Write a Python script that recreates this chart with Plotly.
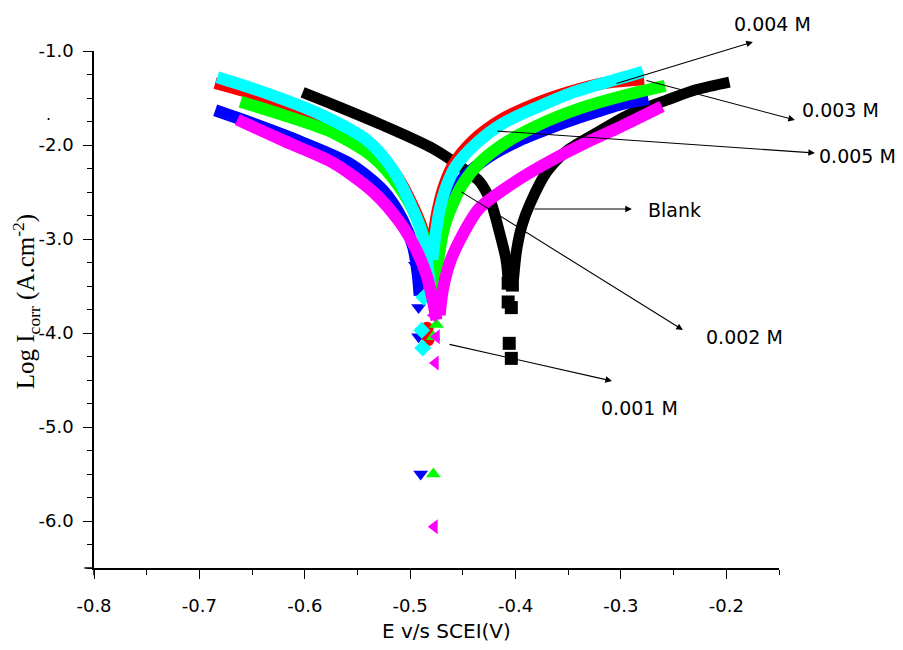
import plotly.graph_objects as go

# ---------------- data ----------------
# Blank (black squares)
blank_cat_E = [-0.602, -0.573, -0.526, -0.478, -0.446, -0.434, -0.424, -0.415, -0.409, -0.407]
blank_cat_L = [-1.44, -1.57, -1.79, -2.04, -2.28, -2.39, -2.59, -2.94, -3.22, -3.44]
blank_an_E = [-0.402, -0.399, -0.394, -0.386, -0.370, -0.351, -0.323, -0.291, -0.256, -0.228, -0.197]
blank_an_L = [-3.44, -3.12, -2.86, -2.62, -2.28, -2.06, -1.87, -1.67, -1.52, -1.41, -1.33]
blank_tail_E = [-0.407, -0.403, -0.407, -0.404, -0.406, -0.404]
blank_tail_L = [-3.47, -3.49, -3.67, -3.73, -4.11, -4.27]

# 0.001 M (magenta left triangles)
m001_cat_E = [-0.664, -0.621, -0.573, -0.535, -0.510, -0.494, -0.484, -0.478, -0.475]
m001_cat_L = [-1.73, -1.95, -2.19, -2.50, -2.82, -3.12, -3.40, -3.68, -3.86]
m001_an_E = [-0.472, -0.469, -0.462, -0.450, -0.434, -0.396, -0.367, -0.334, -0.301, -0.261]
m001_an_L = [-3.81, -3.54, -3.24, -2.95, -2.67, -2.36, -2.17, -1.98, -1.81, -1.59]
m001_tail_E = [-0.478, -0.475, -0.476, -0.477]
m001_tail_L = [-3.81, -4.04, -4.32, -6.06]

# 0.002 M (green up triangles)
m002_cat_E = [-0.661, -0.621, -0.573, -0.535, -0.510, -0.494, -0.484, -0.478, -0.476]
m002_cat_L = [-1.54, -1.68, -1.87, -2.13, -2.45, -2.77, -3.09, -3.40, -3.65]
m002_an_E = [-0.475, -0.472, -0.467, -0.460, -0.451, -0.434, -0.410, -0.377, -0.339, -0.296, -0.258]
m002_an_L = [-3.44, -3.12, -2.85, -2.64, -2.43, -2.19, -1.98, -1.78, -1.61, -1.47, -1.37]
m002_tail_E = [-0.475, -0.478, -0.478]
m002_tail_L = [-3.91, -4.04, -5.50]

# 0.003 M (red circles)
m003_cat_E = [-0.685, -0.636, -0.588, -0.541, -0.514, -0.497, -0.486, -0.482, -0.480]
m003_cat_L = [-1.34, -1.50, -1.71, -2.00, -2.31, -2.66, -2.98, -3.25, -3.55]
m003_an_E = [-0.481, -0.478, -0.474, -0.468, -0.459, -0.440, -0.415, -0.383, -0.350, -0.315, -0.278]
m003_an_L = [-3.25, -2.98, -2.70, -2.44, -2.21, -1.95, -1.74, -1.57, -1.44, -1.34, -1.30]
m003_tail_E = [-0.484, -0.483]
m003_tail_L = [-3.95, -4.07]

# 0.004 M (cyan diamonds)
m004_cat_E = [-0.683, -0.636, -0.588, -0.541, -0.516, -0.500, -0.489, -0.484, -0.481]
m004_cat_L = [-1.28, -1.45, -1.66, -1.95, -2.27, -2.62, -2.94, -3.22, -3.57]
m004_an_E = [-0.479, -0.476, -0.472, -0.466, -0.457, -0.437, -0.412, -0.380, -0.348, -0.313, -0.279]
m004_an_L = [-3.22, -2.96, -2.69, -2.45, -2.23, -1.98, -1.77, -1.60, -1.45, -1.33, -1.22]
m004_tail_E = [-0.487, -0.489, -0.488]
m004_tail_L = [-3.62, -3.97, -4.16]

# 0.005 M (blue down triangles)
m005_cat_E = [-0.685, -0.652, -0.605, -0.557, -0.526, -0.507, -0.497, -0.493, -0.491]
m005_cat_L = [-1.63, -1.76, -1.96, -2.20, -2.48, -2.80, -3.09, -3.36, -3.60]
m005_an_E = [-0.481, -0.478, -0.474, -0.465, -0.451, -0.427, -0.396, -0.365, -0.332, -0.301, -0.274]
m005_an_L = [-3.54, -3.24, -2.96, -2.64, -2.37, -2.14, -1.95, -1.81, -1.68, -1.57, -1.51]
m005_tail_E = [-0.495, -0.492, -0.492, -0.490]
m005_tail_L = [-3.28, -3.73, -4.04, -5.50]

x_tickvals = [-0.8, -0.7, -0.6, -0.5, -0.4, -0.3, -0.2]
x_ticktext = ["-0.8", "-0.7", "-0.6", "-0.5", "-0.4", "-0.3", "-0.2"]
y_tickvals = [-1.0, -2.0, -3.0, -4.0, -5.0, -6.0]
y_ticktext = ["-1.0", "-2.0", "-3.0", "-4.0", "-5.0", "-6.0"]

series = [
    ("Blank", "#000000", "square", 11, blank_cat_E, blank_cat_L, blank_an_E, blank_an_L, blank_tail_E, blank_tail_L),
    ("0.003 M", "#ff0000", "circle", 12, m003_cat_E, m003_cat_L, m003_an_E, m003_an_L, m003_tail_E, m003_tail_L),
    ("0.005 M", "#0000ff", "triangle-down", 12, m005_cat_E, m005_cat_L, m005_an_E, m005_an_L, m005_tail_E, m005_tail_L),
    ("0.002 M", "#00ff00", "triangle-up", 12, m002_cat_E, m002_cat_L, m002_an_E, m002_an_L, m002_tail_E, m002_tail_L),
    ("0.004 M", "#00ffff", "diamond", 12, m004_cat_E, m004_cat_L, m004_an_E, m004_an_L, m004_tail_E, m004_tail_L),
    ("0.001 M", "#ff00ff", "triangle-left", 12, m001_cat_E, m001_cat_L, m001_an_E, m001_an_L, m001_tail_E, m001_tail_L),
]

fig = go.Figure()
for name, col, sym, lw, cE, cL, aE, aL, tE, tL in series:
    fig.add_trace(go.Scatter(x=cE + [None] + aE, y=cL + [None] + aL, mode="lines",
                             line=dict(color=col, width=lw, shape="spline", smoothing=0.8),
                             name=name, showlegend=False, hoverinfo="skip"))
    fig.add_trace(go.Scatter(x=tE, y=tL, mode="markers",
                             marker=dict(color=col, symbol=sym, size=13, line=dict(width=0)),
                             name=name, showlegend=False))

FONT = "DejaVu Sans"
# the page body has an 8 px margin: figure is 887x634 so it fills the 903x650 window
fig.update_layout(
    width=887, height=634,
    margin=dict(l=86, r=116, t=43, b=74),
    paper_bgcolor="white", plot_bgcolor="white",
    showlegend=False,
    font=dict(family=FONT, color="black", size=15),
)
fig.update_xaxes(range=[-0.8, -0.15], showgrid=False, zeroline=False,
                 showline=True, linecolor="black", linewidth=1.5,
                 ticks="outside", ticklen=9, tickwidth=1.2, tickcolor="black",
                 tickvals=x_tickvals, ticktext=x_ticktext, ticklabelstandoff=12,
                 tickfont=dict(family=FONT, size=18),
                 minor=dict(dtick=0.05, tick0=-0.8, ticks="outside", ticklen=5, tickwidth=1.2, tickcolor="black"))
fig.update_yaxes(range=[-6.5, -1.0], showgrid=False, zeroline=False,
                 showline=True, linecolor="black", linewidth=1.5,
                 ticks="outside", ticklen=9, tickwidth=1.2, tickcolor="black",
                 tickvals=y_tickvals, ticktext=y_ticktext, ticklabelstandoff=6,
                 tickfont=dict(family=FONT, size=18),
                 minor=dict(dtick=0.25, tick0=-1.0, ticks="outside", ticklen=5, tickwidth=1.2, tickcolor="black"))

# axis-line overhang at the origin (Origin-style cross)
fig.add_shape(type="line", xref="paper", yref="paper", x0=-0.014, x1=0, y0=0, y1=0,
              line=dict(color="black", width=1.5))
fig.add_shape(type="line", xref="paper", yref="paper", x0=0, x1=0, y0=0, y1=-0.014,
              line=dict(color="black", width=1.5))

# axis titles
fig.add_annotation(xref="paper", yref="paper", x=-0.1, y=0.515, textangle=-90,
                   text="Log I<sub>corr</sub> (A.cm<sup>-2</sup>)", showarrow=False,
                   font=dict(family="Liberation Serif", size=25, color="black"),
                   xanchor="center", yanchor="middle")
fig.add_annotation(xref="paper", yref="paper", x=0.515, y=-0.121, text="E v/s SCEI(V)",
                   showarrow=False, font=dict(family=FONT, size=20, color="black"),
                   xanchor="center", yanchor="middle")
fig.add_annotation(xref="paper", yref="paper", x=-0.073, y=0.899, text=".", showarrow=False,
                   font=dict(family=FONT, size=16, color="black"))

# arrows (tail on the curve, head near the label)
arrows = [
    (-0.3057, -1.351, -0.1748, -0.904),
    (-0.2772, -1.309, -0.1349, -1.734),
    (-0.4186, -1.851, -0.1159, -2.085),
    (-0.3835, -2.681, -0.2896, -2.681),
    (-0.4528, -2.489, -0.2412, -3.968),
    (-0.4641, -4.117, -0.3085, -4.511),
]
for tx, ty, hx, hy in arrows:
    fig.add_annotation(xref="x", yref="y", axref="x", ayref="y", x=hx, y=hy, ax=tx, ay=ty,
                       text="", showarrow=True, arrowhead=2, arrowsize=1.2, arrowwidth=1.1,
                       arrowcolor="black")

labels = [
    ("0.004 M", 0.991, 1.052),
    ("0.003 M", 1.0905, 0.886),
    ("0.005 M", 1.1153, 0.797),
    ("Blank", 0.848, 0.692),
    ("0.002 M", 0.949, 0.447),
    ("0.001 M", 0.796, 0.309),
]
for t, lx, ly in labels:
    fig.add_annotation(xref="paper", yref="paper", x=lx, y=ly, text=t, showarrow=False,
                       font=dict(family=FONT, size=19, color="black"),
                       xanchor="center", yanchor="middle")

fig.write_html("out.html")
